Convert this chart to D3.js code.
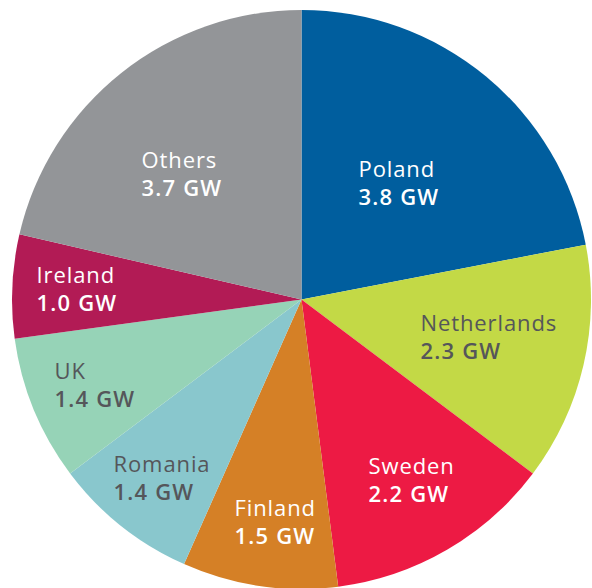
<!DOCTYPE html>
<html>
<head>
<meta charset="utf-8">
<script src="https://cdn.jsdelivr.net/npm/d3@7"></script>
<style>
html,body{margin:0;padding:0;background:#fff;}
svg{display:block;}
</style>
</head>
<body>
<svg id="chart" width="592" height="588"></svg>
<script>
const countries = ["Poland","Netherlands","Sweden","Finland","Romania","UK","Ireland","Others"];
const capacityGW = [3.8, 2.3, 2.2, 1.5, 1.4, 1.4, 1.0, 3.7];
const valueLabels = ["3.8 GW","2.3 GW","2.2 GW","1.5 GW","1.4 GW","1.4 GW","1.0 GW","3.7 GW"];
const sliceColors = ["#005e9e","#c3d946","#ed1a44","#d58026","#89c7cd","#96d3b7","#b21b55","#939598"];
const labelColors = ["#ffffff","#55565a","#ffffff","#ffffff","#55565a","#55565a","#ffffff","#ffffff"];
// label block anchor (left edge, first baseline) relative to pie centre
const labelOffsets = [[57,-123],[119,31],[67,174],[-67,216],[-188,172],[-247,79],[-265,-17],[-160,-132]];

const cx = 301.5, cy = 299.5, r = 289.5;
const svg = d3.select("#chart");
const g = svg.append("g").attr("transform", `translate(${cx},${cy})`);

const data = countries.map((c,i)=>({name:c, value:capacityGW[i], label:valueLabels[i], color:sliceColors[i], tcolor:labelColors[i], off:labelOffsets[i]}));
const pie = d3.pie().value(d=>d.value).sort(null).startAngle(0).endAngle(2*Math.PI);
const arc = d3.arc().innerRadius(0).outerRadius(r);

g.selectAll("path").data(pie(data)).join("path")
  .attr("d", arc)
  .attr("fill", d=>d.data.color);

const lab = g.selectAll("g.lab").data(pie(data)).join("g").attr("class","lab")
  .attr("transform", d=>`translate(${d.data.off[0]},${d.data.off[1]})`);
lab.append("text")
  .attr("x",0).attr("y",0)
  .attr("fill", d=>d.data.tcolor)
  .style("font-family","'Open Sans', sans-serif")
  .style("font-size","22px")
  .style("font-weight","400")
  .style("letter-spacing","0.9px")
  .text(d=>d.data.name);
lab.append("text")
  .attr("x",0).attr("y",28)
  .attr("fill", d=>d.data.tcolor)
  .style("font-family","'Open Sans', sans-serif")
  .style("font-size","22px")
  .style("font-weight","600")
  .style("letter-spacing","1.2px")
  .text(d=>d.data.label);
</script>
</body>
</html>
